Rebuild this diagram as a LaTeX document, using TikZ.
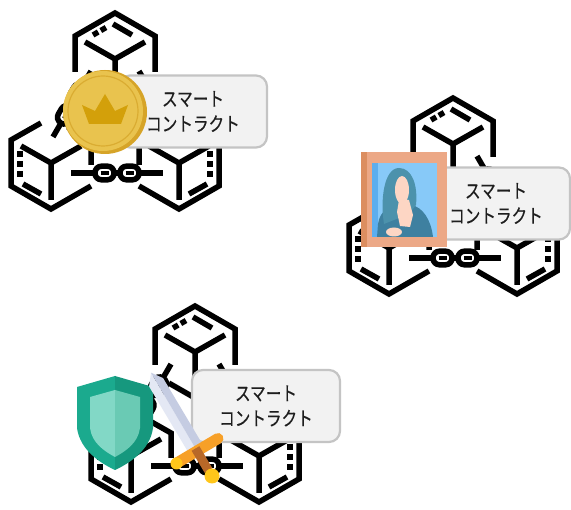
\documentclass[tikz,border=0pt]{standalone}
\usepackage{fontspec}
\newfontfamily\jpfont[FakeBold=0.35,FakeStretch=0.8]{Noto Sans CJK JP}
\usepackage{tikz}
\definecolor{inkdark}{RGB}{30,30,30}
\definecolor{boxgray}{RGB}{196,196,196}
\definecolor{boxfill}{RGB}{242,242,242}
\definecolor{coinedge}{RGB}{214,164,40}
\definecolor{coinface}{RGB}{233,195,78}
\definecolor{coinring}{RGB}{218,172,50}
\definecolor{crowngold}{RGB}{211,160,10}
\definecolor{framesalmon}{RGB}{236,168,134}
\definecolor{framedark}{RGB}{220,142,96}
\definecolor{skyblue}{RGB}{135,201,248}
\definecolor{skydeep}{RGB}{92,174,238}
\definecolor{hairteal}{RGB}{76,146,172}
\definecolor{robeteal}{RGB}{62,128,160}
\definecolor{skinpeach}{RGB}{253,214,196}
\definecolor{shieldlight}{RGB}{27,170,142}
\definecolor{shielddark}{RGB}{22,152,126}
\definecolor{shieldinl}{RGB}{130,216,198}
\definecolor{shieldinr}{RGB}{106,202,180}
\definecolor{bladelight}{RGB}{228,232,244}
\definecolor{bladedark}{RGB}{197,204,226}
\definecolor{guardorange}{RGB}{247,160,40}
\definecolor{guardyellow}{RGB}{255,198,26}
\definecolor{gripbrown}{RGB}{184,104,40}
\tikzset{
  blockline/.style={draw=black,line width=5.5pt,line join=miter},
  smartbox/.style={draw=boxgray,line width=2.2pt,fill=boxfill,rounded corners=11pt,
    minimum width=148pt,minimum height=72pt,inner sep=0pt,align=center,
    text=inkdark,font=\jpfont\fontsize{19.5}{25}\selectfont},
  pics/topblock/.style={code={
    \draw[blockline] (-40,13) -- (-40,-23) -- (0,-46) -- (40,-23) -- (40,13);
    \draw[blockline] (-28,30) -- (0,46) -- (28,30);
    \draw[blockline] (-30,-17) -- (0,0) -- (30,-17) (0,0) -- (0,36);
    \draw[blockline,dash pattern=on 6pt off 3pt] (-22,-24) -- (-7,-32.6);
    \draw[blockline] (-2,-35) -- (17,-24);
  }},
  pics/sideblock/.style={code={
    \draw[blockline] (-10,-40) -- (-40,-23) -- (-40,23) -- (0,46) -- (40,23);
    \draw[blockline] (40,2) -- (40,-23) -- (10,-40);
    \draw[blockline] (-30,-17) -- (0,0) -- (30,-17) (0,0) -- (0,37);
    \draw[blockline,dash pattern=on 6pt off 4pt] (-31,-12) -- (-31,14);
    \draw[blockline] (-28,21) -- (-10,31);
  }},
  pics/linkchain/.style={code={
    \draw[white,line width=15pt] (-#1,0) -- (#1,0);
    \draw[blockline] (-#1,0) -- (#1,0);
    \foreach \cx in {-12.5,12.5}{
      \draw[blockline,fill=white,rounded corners=6.5pt] (\cx-9.5,-6.8) rectangle (\cx+9.5,6.8);
      \draw[line width=3.5pt] (\cx-4,0) -- (\cx+4,0);
    }
  }},
  pics/blockchain/.style={code={
    \pic at (0,0) {topblock};
    \pic at (-64,104) {sideblock};
    \pic[xscale=-1] at (64,104) {sideblock};
    \pic at (2,114) {linkchain=46};
    \pic[rotate=60] at (-43,45) {linkchain=38};
    \pic[rotate=-60] at (43,45) {linkchain=38};
  }}
}

\begin{document}
\begin{tikzpicture}[x=1pt,y=-1pt]
  \fill[white] (0,0) rectangle (571,510);
  \useasboundingbox (0,0) rectangle (571,510);

  \pic at (115,59) {blockchain};
  \pic at (453,144) {blockchain};
  \pic at (195,352) {blockchain};

  \node[smartbox] (lblcoin) at (193,111.5) {スマート\\コントラクト};
  \node[smartbox] (lblart) at (496,203.5) {スマート\\コントラクト};
  \node[smartbox] (lblguard) at (266,406) {スマート\\コントラクト};

  % coin with crown
  \fill[coinedge] (105,112) circle[radius=42];
  \fill[coinface] (103,111) circle[radius=40];
  \draw[coinring,line width=1.2pt] (103,111) circle[radius=35];
  \fill[crowngold] (82,105) -- (95,111) -- (105,94) -- (115,111) -- (128,105)
    -- (121,124) -- (89,124) -- cycle;

  % framed portrait
  \fill[framesalmon] (361,152) rectangle (447,247);
  \fill[framedark] (361,152) rectangle (367,247);
  \fill[skyblue] (372,163) rectangle (437,237);
  \fill[skydeep] (372,163) rectangle (378,237);
  \fill[robeteal] (377,237) -- (378,224) .. controls (380,210) and (390,206) .. (399,205)
    -- (411,205) .. controls (423,207) and (431,220) .. (433,237) -- cycle;
  \fill[hairteal] (384,224) .. controls (380,200) and (384,168) .. (399,168)
    .. controls (412,168) and (418,185) .. (416,205) -- (409,214) -- cycle;
  \fill[skinpeach] (402,190) ellipse[x radius=7,y radius=14];
  \fill[skinpeach] (399,200) -- (409,200) -- (413,215) -- (410,227) -- (400,226)
    -- (397,212) -- cycle;
  \fill[skinpeach] (394,232) ellipse[x radius=8,y radius=4.5];

  % shield
  \fill[shieldlight] (115,376) -- (77,387) -- (77,428) .. controls (80,450) and (100,463) .. (115,470) -- cycle;
  \fill[shielddark] (115,376) -- (153,387) -- (153,428) .. controls (150,450) and (130,463) .. (115,470) -- cycle;
  \fill[shieldinl] (115,390) -- (90,397) -- (90,428) .. controls (92,443) and (104,451) .. (115,457) -- cycle;
  \fill[shieldinr] (115,390) -- (140,397) -- (140,428) .. controls (138,443) and (126,451) .. (115,457) -- cycle;

  % sword
  \fill[bladelight] (197,451) -- (190,455.2) -- (149.1,386.5) -- (151,372.7) -- cycle;
  \fill[bladedark] (197,451) -- (204,446.8) -- (163.1,378.1) -- (151,372.7) -- cycle;
  \draw[guardorange,line width=11pt,line cap=round] (176,463.5) -- (218,438.5);
  \fill[guardyellow] (176.5,463.5) circle[radius=6];
  \draw[gripbrown,line width=9pt] (195.5,448.5) -- (208.5,470.5);
  \fill[guardyellow] (212,476) circle[radius=7.5];
\end{tikzpicture}
\end{document}
